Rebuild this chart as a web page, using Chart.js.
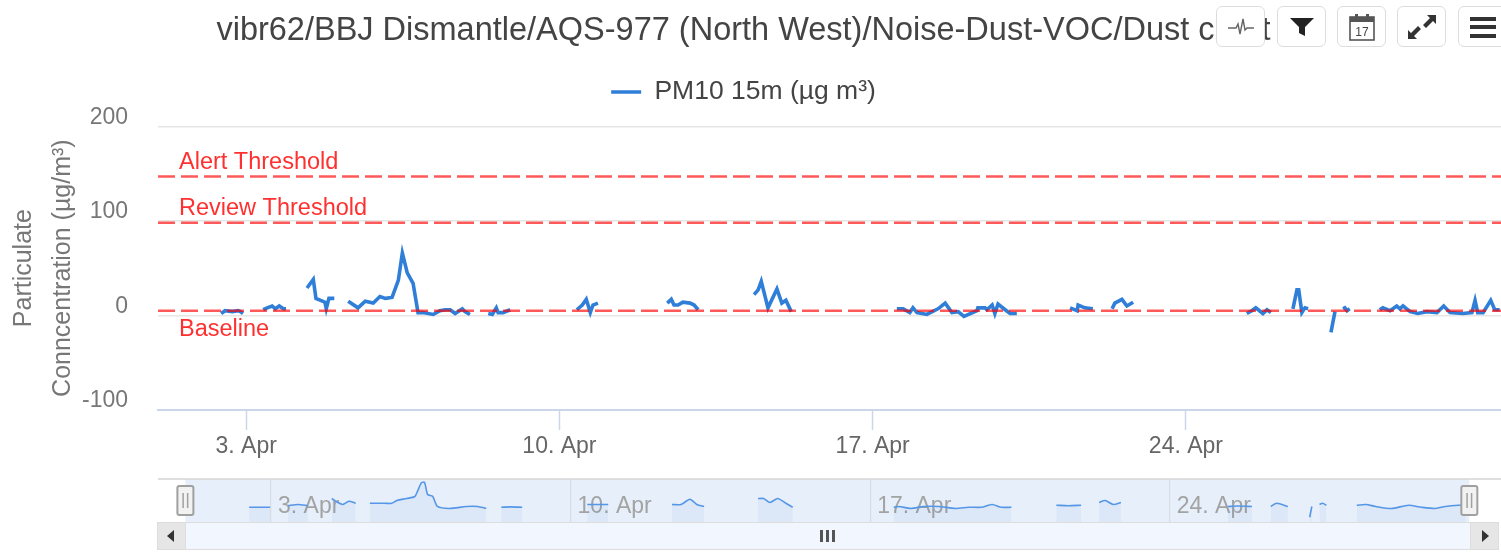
<!DOCTYPE html>
<html>
<head>
<meta charset="utf-8">
<title>Dust chart</title>
<script src="https://cdn.jsdelivr.net/npm/chart.js@4/dist/chart.umd.min.js"></script>
<style>
    html, body { margin: 0; padding: 0; background: #fff; overflow: hidden; }
    body { width: 1501px; height: 552px; position: relative; font-family: "Liberation Sans", Arial, sans-serif; }
    #main-chart { position: absolute; left: -14px; top: 0; }
    #nav-chart { position: absolute; left: 0; top: 470px; }
    .tool-btn {
        position: absolute; top: 6px; width: 47px; height: 39px; background: #fff;
        border: 1.5px solid #ddd; border-radius: 6px; display: flex;
        align-items: center; justify-content: center;
    }
    .scroll-track { position: absolute; left: 157px; top: 522px; width: 1341px; height: 26px; background: #f2f6fe; border-top: 1.5px solid #ddd; border-bottom: 1.5px solid #ddd; }
    .scroll-btn { position: absolute; top: 522px; width: 27px; height: 26px; background: #e6e6e6; border: 1.5px solid #ddd; border-top-width: 1.5px; box-sizing: content-box; }
    .scroll-btn::after { content: ""; position: absolute; top: 7px; border-top: 6px solid transparent; border-bottom: 6px solid transparent; }
    #scroll-left { left: 157px; }
    #scroll-left::after { left: 9px; border-right: 7px solid #333; }
    #scroll-right { left: 1470px; }
    #scroll-right::after { left: 11px; border-left: 7px solid #333; }
    .scroll-grip { position: absolute; top: 530px; width: 3px; height: 12px; background: #555; }
</style>
</head>
<body>
<canvas id="main-chart" width="1515" height="470"></canvas>
<canvas id="nav-chart" width="1501" height="60"></canvas>

<div class="tool-btn" style="left:1216px">
    <svg width="30" height="24" viewBox="0 0 30 24"><path d="M2 13h8l2-4 2 10 3-15 2 11 2-2h7" fill="none" stroke="#666" stroke-width="1.4"/></svg>
</div>
<div class="tool-btn" style="left:1277px">
    <svg width="26" height="20" viewBox="0 0 26 20"><path d="M1 1h24l-9 9v9l-6-3v-6z" fill="#222"/></svg>
</div>
<div class="tool-btn" style="left:1337px">
    <svg width="28" height="30" viewBox="0 0 28 30"><rect x="2" y="5" width="24" height="23" fill="none" stroke="#555" stroke-width="1.6"/><rect x="2" y="5" width="24" height="5" fill="#555"/><rect x="7" y="2" width="3" height="6" fill="#555"/><rect x="18" y="2" width="3" height="6" fill="#555"/><text x="14" y="24" font-size="12" font-family="Liberation Sans" text-anchor="middle" fill="#444">17</text></svg>
</div>
<div class="tool-btn" style="left:1397px">
    <svg width="30" height="28" viewBox="0 0 30 28"><path d="M20 2h9v9l-3-3-7 7-3-3 7-7zM10 26H1v-9l3 3 7-7 3 3-7 7z" fill="#333"/></svg>
</div>
<div class="tool-btn" style="left:1458px">
    <svg width="28" height="26" viewBox="0 0 28 26"><path d="M1 3h26v4H1zM1 11h26v4H1zM1 20h26v4H1z" fill="#333"/></svg>
</div>

<div class="scroll-track"></div>
<div class="scroll-btn" id="scroll-left"></div>
<div class="scroll-btn" id="scroll-right"></div>
<div class="scroll-grip" style="left:820px"></div>
<div class="scroll-grip" style="left:826px"></div>
<div class="scroll-grip" style="left:832px"></div>

<script>
// Chart text
const chartTitle = 'vibr62/BBJ Dismantle/AQS-977 (North West)/Noise-Dust-VOC/Dust chart';
const seriesName = 'PM10 15m (µg m³)';
const yAxisTitle = ['Particulate', 'Conncentration (µg/m³)'];

// Tick days in April, y range
const tickDays = [3, 10, 17, 24];
const yTicks = [-100, 0, 100, 200];
const yRange = [-100, 200];
const mainDayRange = [1.03, 31.04];
const navDayRange = [0.36, 31.74];
const navValueRange = [-34, 74];
const navSelection = [1, 31];

// Threshold lines
const thresholdNames = ['Alert Threshold', 'Review Threshold', 'Baseline'];
const thresholdValues = [147, 98, 5];

// PM10 readings, day of April and value, a null value is a gap in the record
const pm10Days = [
    2.44, 2.53, 2.69, 2.82, 2.87, 2.93, 3.1,
    3.38, 3.47, 3.58, 3.65, 3.74, 3.83, 3.89, 4.1,
    4.36, 4.50, 4.56, 4.76, 4.79, 4.85, 4.97, 5.1,
    5.28, 5.50, 5.66, 5.84, 5.99, 6.11, 6.26, 6.40, 6.49, 6.60, 6.73, 6.84, 6.95, 7.18, 7.33, 7.45, 7.56, 7.67, 7.83, 7.89, 8.00, 8.2,
    8.41, 8.50, 8.59, 8.63, 8.74, 8.90, 9.5,
    10.39, 10.51, 10.60, 10.69, 10.75, 10.86, 11.5,
    12.41, 12.50, 12.56, 12.65, 12.76, 12.92, 13.01, 13.10, 13.5,
    14.35, 14.44, 14.51, 14.66, 14.86, 14.97, 15.06, 15.18, 16.5,
    17.54, 17.68, 17.83, 17.90, 17.99, 18.21, 18.46, 18.62, 18.77, 18.91, 19.04, 19.33, 19.35, 19.51, 19.55, 19.67, 19.73, 19.80, 19.96, 20.07, 20.22, 20.8,
    21.41, 21.57, 21.59, 21.74, 21.92, 22.1,
    22.35, 22.41, 22.57, 22.68, 22.82, 24,
    25.36, 25.47, 25.56, 25.72, 25.81, 25.90, 26.1,
    26.39, 26.48, 26.52, 26.59, 26.66, 26.73, 27,
    27.24, 27.33, 27.4,
    27.51, 27.55, 27.60, 27.66, 28,
    28.33, 28.40, 28.56, 28.71, 28.78, 28.85, 29.01, 29.18, 29.38, 29.61, 29.76, 29.90, 30.19, 30.39, 30.46, 30.52, 30.64, 30.81, 30.90, 31.01
];
const pm10Values = [
    2, 5, 4, 5, 4, 2, null,
    6, 8, 10, 7, 10, 7, 7, null,
    29, 38, 18, 14, 7, 18, 18, null,
    15, 8, 15, 13, 20, 18, 19, 37, 66, 45, 34, 3, 3, 1, 5, 6, 6, 2, 7, 4, 1, null,
    2, 1, 8, 3, 3, 6, null,
    6, 11, 17, 3, 11, 13, null,
    13, 17, 11, 11, 14, 13, 11, 6, null,
    22, 27, 36, 8, 28, 13, 16, 4, null,
    7, 7, 3, 8, 3, 1, 7, 13, 3, 4, -1, 5, 8, 8, 6, 11, 2, 12, 6, 2, 2, null,
    8, 5, 11, 8, 7, null,
    7, 13, 17, 10, 14, null,
    2, 5, 8, 2, 6, 3, null,
    7, 27, 27, 3, 8, 7, null,
    -18, 4, null,
    7, 8, 5, 7, null,
    6, 8, 5, 10, 7, 10, 4, 2, 4, 3, 10, 3, 2, 3, 16, 3, 3, 16, 6, 6
];

// Navigator overview line, smoothed by the original chart
const navDays = [
    2.49, 2.98, 3.1,
    3.40, 3.63, 3.86, 4.1,
    4.42, 4.56, 4.68, 4.82, 4.98, 5.1,
    5.31, 5.47, 5.66, 5.82, 5.94, 6.17, 6.36, 6.43, 6.52, 6.59, 6.66, 6.78, 6.89, 7.17, 7.57, 7.83, 8.03, 8.2,
    8.38, 8.60, 8.87, 9.5,
    10.39, 10.60, 10.88, 11.5,
    12.37, 12.58, 12.79, 12.95, 13.12, 13.5,
    14.38, 14.51, 14.66, 14.84, 15.03, 15.19, 16.5,
    17.55, 17.67, 17.95, 18.25, 18.60, 19.00, 19.30, 19.60, 19.85, 20.06, 20.30, 20.8,
    21.35, 21.63, 21.93, 22.1,
    22.35, 22.49, 22.68, 22.86, 24,
    25.36, 25.60, 25.92, 26.1,
    26.36, 26.50, 26.76, 27,
    27.27, 27.32, 27.4,
    27.50, 27.57, 27.66, 28,
    28.37, 28.58, 28.81, 29.18, 29.58, 29.88, 30.21, 30.44, 30.75, 30.92
];
const navValues = [
    3, 3, null,
    7, 10, 7, null,
    25, 15, 10, 18, 13, null,
    13, 13, 13, 13, 20, 25, 30, 45, 65, 65, 35, 30, 5, 0, 5, 5, 0, null,
    3, 4, 3, null,
    10, 10, 10, null,
    10, 10, 23, 10, 5, null,
    25, 25, 15, 25, 13, 3, null,
    3, 5, 0, 5, 5, 0, 3, 3, 10, 3, 3, null,
    8, 7, 8, null,
    15, 20, 10, 15, null,
    5, 6, 5, null,
    5, 13, 5, null,
    -22, 5, null,
    10, 13, 8, null,
    8, 10, 5, 0, 8, 3, 0, 5, 8, 8
];

const fontFamily = '"Liberation Sans", Arial, sans-serif';
const lineBlue = '#2f7ed8';
const thresholdRed = 'rgba(255, 0, 0, 0.65)';

function toPoints(days, values) {
    return days.map((day, i) => ({ x: day, y: values[i] }));
}

// Extra room under the legend, the legend padding alone cannot give it
const legendGapPlugin = {
    id: 'legendGap',
    beforeInit(chart) {
        const fit = chart.legend.fit;
        chart.legend.fit = function () {
            fit.call(chart.legend);
            this.height += 11;
        };
    }
};

// Threshold names are written on the plot next to their lines
const thresholdLabelPlugin = {
    id: 'thresholdLabels',
    afterDatasetsDraw(chart) {
        const { ctx, chartArea, scales } = chart;
        ctx.save();
        ctx.font = `23.5px ${fontFamily}`;
        ctx.fillStyle = '#ff3030';
        ctx.textBaseline = 'middle';
        thresholdNames.forEach((name, i) => {
            const lineY = scales.y.getPixelForValue(thresholdValues[i]);
            const isLowest = i === thresholdNames.length - 1;
            ctx.fillText(name, chartArea.left + 21, lineY + (isLowest ? 19 : -14));
        });
        ctx.restore();
    }
};

// Shaded selection behind the overview line
const navMaskPlugin = {
    id: 'navMask',
    beforeDraw(chart) {
        const { ctx, chartArea, scales } = chart;
        const left = scales.x.getPixelForValue(navSelection[0]);
        const right = scales.x.getPixelForValue(navSelection[1]);
        ctx.save();
        ctx.fillStyle = '#e6effa';
        ctx.fillRect(left, chartArea.top, right - left, chartArea.height);
        ctx.strokeStyle = '#d4d4d4';
        ctx.lineWidth = 1.5;
        ctx.beginPath();
        ctx.moveTo(chartArea.left, chartArea.top);
        ctx.lineTo(chartArea.right, chartArea.top);
        ctx.stroke();
        ctx.restore();
    },
    afterDraw(chart) {
        const { ctx, scales } = chart;
        ctx.save();
        navSelection.forEach(day => {
            const x = scales.x.getPixelForValue(day);
            ctx.fillStyle = '#f2f2f2';
            ctx.strokeStyle = '#a0a0a0';
            ctx.lineWidth = 2;
            ctx.beginPath();
            ctx.roundRect(x - 8, 16, 16, 29, 2);
            ctx.fill();
            ctx.stroke();
            ctx.fillStyle = '#a0a0a0';
            ctx.fillRect(x - 3, 23, 1.5, 15);
            ctx.fillRect(x + 1.5, 23, 1.5, 15);
        });
        ctx.restore();
    }
};

// Main chart
new Chart(document.getElementById('main-chart'), {
    type: 'line',
    data: {
        datasets: [
            ...thresholdNames.map((name, i) => ({
                label: name,
                data: toPoints(mainDayRange, [thresholdValues[i], thresholdValues[i]]),
                borderColor: thresholdRed,
                borderWidth: 2.5,
                borderDash: [17, 6],
                pointRadius: 0,
                order: 0
            })),
            {
                label: seriesName,
                data: toPoints(pm10Days, pm10Values),
                borderColor: lineBlue,
                backgroundColor: lineBlue,
                borderWidth: 3.6,
                pointRadius: 0,
                spanGaps: false,
                order: 1
            }
        ]
    },
    options: {
        responsive: false,
        animation: false,
        layout: { padding: 0 },
        plugins: {
            title: {
                display: true,
                text: chartTitle,
                color: '#444',
                font: { family: fontFamily, size: 32.5, weight: 'normal', lineHeight: 1.2 },
                padding: { top: 12, bottom: 7.75 }
            },
            legend: {
                display: true,
                position: 'top',
                labels: {
                    filter: item => item.text === seriesName,
                    color: '#444',
                    font: { family: fontFamily, size: 26.5 },
                    usePointStyle: true,
                    pointStyle: 'line',
                    pointStyleWidth: 30,
                    padding: 20
                }
            },
            tooltip: { enabled: false }
        },
        scales: {
            x: {
                type: 'linear',
                min: mainDayRange[0],
                max: mainDayRange[1],
                afterBuildTicks: scale => { scale.ticks = tickDays.map(value => ({ value })); },
                afterFit: scale => { scale.height = 60; },
                grid: { drawOnChartArea: false, drawTicks: true, tickLength: 20, tickColor: '#ccd6eb', tickWidth: 1.5 },
                border: { color: '#ccd6eb', width: 2 },
                ticks: {
                    autoSkip: false,
                    maxRotation: 0,
                    color: '#666',
                    font: { family: fontFamily, size: 23 },
                    padding: 3,
                    callback: value => `${value}. Apr`
                }
            },
            y: {
                min: yRange[0],
                max: yRange[1],
                afterBuildTicks: scale => { scale.ticks = yTicks.map(value => ({ value })); },
                afterFit: scale => { scale.width = 172; },
                grid: { color: '#e6e6e6', lineWidth: 1.5, drawTicks: false },
                border: { display: false },
                ticks: {
                    color: '#777',
                    font: { family: fontFamily, size: 23 },
                    padding: 30,
                    labelOffset: -9
                },
                title: {
                    display: true,
                    text: yAxisTitle,
                    color: '#777',
                    font: { family: fontFamily, size: 25, lineHeight: 1.56 },
                    padding: { top: 19, bottom: 0 }
                }
            }
        }
    },
    plugins: [legendGapPlugin, thresholdLabelPlugin]
});

// Navigator strip under the main chart
new Chart(document.getElementById('nav-chart'), {
    type: 'line',
    data: {
        datasets: [{
            label: seriesName,
            data: toPoints(navDays, navValues),
            borderColor: '#5597e6',
            backgroundColor: 'rgba(47, 126, 216, 0.05)',
            borderWidth: 1.6,
            pointRadius: 0,
            tension: 0.25,
            fill: 'start',
            spanGaps: false
        }]
    },
    options: {
        responsive: false,
        animation: false,
        layout: { padding: { left: 158, right: 0, top: 9, bottom: 8 } },
        plugins: { legend: { display: false }, title: { display: false }, tooltip: { enabled: false } },
        scales: {
            x: {
                type: 'linear',
                min: navDayRange[0],
                max: navDayRange[1],
                afterBuildTicks: scale => { scale.ticks = tickDays.map(value => ({ value })); },
                afterFit: scale => { scale.height = 0; },
                grid: { color: '#d8dde4', lineWidth: 1.2, drawTicks: false },
                border: { display: false },
                ticks: {
                    autoSkip: false,
                    maxRotation: 0,
                    align: 'start',
                    mirror: true,
                    labelOffset: 7,
                    padding: 2,
                    color: '#a3a3a3',
                    font: { family: fontFamily, size: 23 },
                    callback: value => `${value}. Apr`
                }
            },
            y: {
                display: false,
                min: navValueRange[0],
                max: navValueRange[1]
            }
        }
    },
    plugins: [navMaskPlugin]
});
</script>
</body>
</html>
